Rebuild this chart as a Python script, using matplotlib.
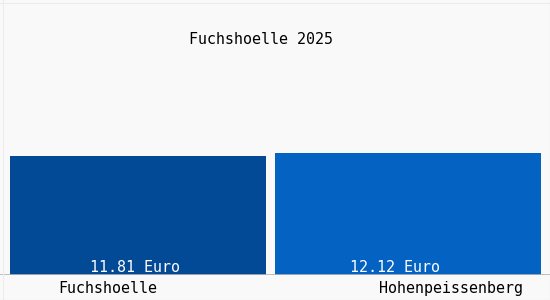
import matplotlib
matplotlib.use("Agg")
import matplotlib.pyplot as plt
from matplotlib.lines import Line2D

title = "Fuchshoelle 2025"
places = ["Fuchshoelle", "Hohenpeissenberg"]
prices = [11.81, 12.12]
price_labels = ["11.81 Euro", "12.12 Euro"]
colors = ["#034a96", "#0462c3"]

plt.rcParams["font.family"] = "DejaVu Sans Mono"
FS = 10.8

fig = plt.figure(figsize=(5.5, 3), dpi=100, facecolor="#f9f9f9")
ax = fig.add_axes([0, 25 / 300, 1, 275 / 300])
ax.set_facecolor("#f9f9f9")

# one unit on x = 270 px, one euro ~ 10.07 px
ax.bar([0, 1], prices, width=[0.95, 0.985], color=colors)
ax.set_xlim(-138 / 270, 412 / 270)
ax.set_ylim(0, 275 / 10.07)
ax.axis("off")
ax.axhline(0, color="#b4b4b4", lw=1.2)

# value labels sit low inside the bars
ax.text(-0.011, 0.7, price_labels[0], color="white", fontsize=FS,
        ha="center", va="center")
ax.text(0.952, 0.7, price_labels[1], color="white", fontsize=FS,
        ha="center", va="center")

# category labels under the axis line
ax.text(-0.111, -1.3, places[0], color="black", fontsize=FS,
        ha="center", va="center", clip_on=False)
ax.text(1.426, -1.3, places[1], color="black", fontsize=FS,
        ha="right", va="center", clip_on=False)

fig.text(261 / 550, 1 - 40 / 300, title, fontsize=FS, ha="center", va="center")

# faint frame lines
fig.add_artist(Line2D([0, 1], [1 - 2.5 / 300] * 2, color="#ececec", lw=0.8))
fig.add_artist(Line2D([2.5 / 550] * 2, [0, 1], color="#ececec", lw=0.8))
fig.add_artist(Line2D([0, 1], [0.5 / 300] * 2, color="#dddddd", lw=0.8))
fig.add_artist(Line2D([549.5 / 550] * 2, [0, 1], color="#dddddd", lw=0.8))

fig.savefig("out.png", dpi=100, facecolor=fig.get_facecolor())
